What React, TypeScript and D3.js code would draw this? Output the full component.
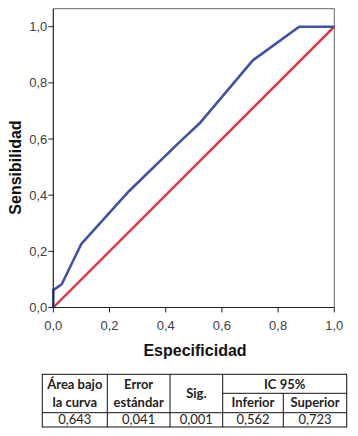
import React from "react";
import * as d3 from "d3";

const rocX = [0, 0, 0.03, 0.1, 0.27, 0.45, 0.52, 0.71, 0.875, 1];
const rocY = [0, 0.062, 0.083, 0.227, 0.415, 0.59, 0.655, 0.88, 1, 1];
const refX = [0, 1];
const refY = [0, 1];
const xTicks = [0, 0.2, 0.4, 0.6, 0.8, 1.0];
const yTicks = [0, 0.2, 0.4, 0.6, 0.8, 1.0];

const headerTop = ["Área bajo", "Error", "Sig.", "IC 95%"];
const headerBottom = ["la curva", "estándar", "Inferior", "Superior"];
const tableValues = ["0,643", "0,041", "0,001", "0,562", "0,723"];

const W = 358;
const H = 436;
const fmt = (v: number) => v.toFixed(1).replace(".", ",");

export default function App() {
  const x = d3.scaleLinear().domain([0, 1]).range([53.3, 334.3]);
  const y = d3.scaleLinear().domain([0, 1]).range([307.5, 26.7]);
  const topY = 8.7;
  const line = d3
    .line<[number, number]>()
    .x((d) => x(d[0]))
    .y((d) => y(d[1]));
  const rocPts: [number, number][] = rocX.map((v, i) => [v, rocY[i]]);
  const refPts: [number, number][] = refX.map((v, i) => [v, refY[i]]);

  // table geometry
  const tL = 42.3, tR = 346.7, tT = 374.3, tM = 393.3, tR2 = 412.7, tB = 427;
  const cols = [tL, 107.3, 170, 222.7, 283.3, tR];
  const cx = (i: number) => (cols[i] + cols[i + 1]) / 2;
  const tf = "Lato, 'Open Sans', sans-serif";

  return (
    <svg
      width={W}
      height={H}
      style={{ position: "absolute", left: 0, top: 0, background: "#fff" }}
      fontFamily="Arial, 'Liberation Sans', sans-serif"
    >
      <rect x={0} y={0} width={W} height={H} fill="#fff" />
      {/* frame */}
      <line x1={x(0)} x2={x(1)} y1={topY} y2={topY} stroke="#666" strokeWidth={1} />
      <line x1={x(1)} x2={x(1)} y1={topY} y2={y(0)} stroke="#666" strokeWidth={1} />
      {/* lines */}
      <path d={line(refPts) || ""} fill="none" stroke="#E0303E" strokeWidth={2.4} />
      <path d={line(rocPts) || ""} fill="none" stroke="#3F53A2" strokeWidth={2.6} strokeLinejoin="round" />
      {/* axes */}
      <line x1={x(0)} x2={x(0)} y1={topY} y2={y(0)} stroke="#222" strokeWidth={1.2} />
      <line x1={x(0)} x2={x(1)} y1={y(0)} y2={y(0)} stroke="#222" strokeWidth={1.2} />
      {yTicks.map((t) => (
        <g key={"y" + t}>
          <line x1={x(0) - 5} x2={x(0)} y1={y(t)} y2={y(t)} stroke="#222" strokeWidth={1} />
          <text x={x(0) - 6} y={y(t)} dy="0.35em" textAnchor="end" fontSize={13} fill="#404040">
            {fmt(t)}
          </text>
        </g>
      ))}
      {xTicks.map((t) => (
        <g key={"x" + t}>
          <line x1={x(t)} x2={x(t)} y1={y(0)} y2={y(0) + 5} stroke="#222" strokeWidth={1} />
          <text x={x(t)} y={330} textAnchor="middle" fontSize={13} fill="#404040">
            {fmt(t)}
          </text>
        </g>
      ))}
      <text x={195} y={356} textAnchor="middle" fontSize={16} fontWeight="bold" fill="#111">
        Especificidad
      </text>
      <text
        transform="translate(20.5,167.5) rotate(-90)"
        textAnchor="middle"
        fontSize={16}
        fontWeight="bold"
        fill="#111"
      >
        Sensibilidad
      </text>

      {/* table */}
      <g fontFamily={tf} fill="#222">
        <rect x={tL} y={tT} width={tR - tL} height={tB - tT} fill="none" stroke="#111" strokeWidth={1} />
        <line x1={tL} x2={tR} y1={tR2} y2={tR2} stroke="#111" />
        <line x1={cols[3]} x2={tR} y1={tM} y2={tM} stroke="#111" />
        {cols.slice(1, 5).map((c, i) => (
          <line
            key={"c" + i}
            x1={c}
            x2={c}
            y1={i === 3 ? tM : tT}
            y2={tB}
            stroke="#111"
          />
        ))}
        <text x={cx(0)} y={388.5} textAnchor="middle" fontSize={13} fontWeight="bold">{headerTop[0]}</text>
        <text x={cx(0)} y={406.5} textAnchor="middle" fontSize={13} fontWeight="bold">{headerBottom[0]}</text>
        <text x={cx(1)} y={388.5} textAnchor="middle" fontSize={13} fontWeight="bold">{headerTop[1]}</text>
        <text x={cx(1)} y={406.5} textAnchor="middle" fontSize={13} fontWeight="bold">{headerBottom[1]}</text>
        <text x={cx(2)} y={398} textAnchor="middle" fontSize={13} fontWeight="bold">{headerTop[2]}</text>
        <text x={(cols[3] + tR) / 2} y={388.5} textAnchor="middle" fontSize={13} fontWeight="bold">{headerTop[3]}</text>
        <text x={cx(3)} y={406.5} textAnchor="middle" fontSize={13} fontWeight="bold">{headerBottom[2]}</text>
        <text x={cx(4)} y={406.5} textAnchor="middle" fontSize={13} fontWeight="bold">{headerBottom[3]}</text>
        {tableValues.map((v, i) => (
          <text key={"v" + i} x={cx(i)} y={423.5} textAnchor="middle" fontSize={13}>
            {v}
          </text>
        ))}
      </g>
    </svg>
  );
}
